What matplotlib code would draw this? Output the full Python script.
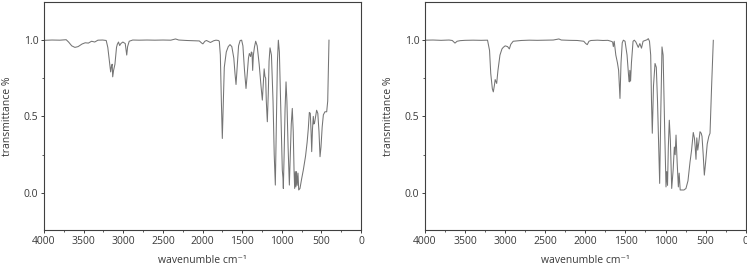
import matplotlib
matplotlib.use("Agg")
import matplotlib.pyplot as plt
from matplotlib.ticker import MultipleLocator

plt.rcParams['font.family'] = ['Open Sans', 'DejaVu Sans']

# Left spectrum (wavenumber cm-1, transmittance)
wn_a = [4000, 3900, 3800, 3720, 3690, 3650, 3610, 3570, 3520, 3480, 3440, 3400, 3360,
        3320, 3260, 3215, 3195, 3175, 3159, 3148, 3140, 3133, 3122, 3105, 3085, 3075,
        3060, 3045, 3030, 3005, 2975, 2956, 2945, 2925, 2880, 2800, 2700, 2600, 2500,
        2400, 2340, 2300, 2200, 2100, 2040, 2010, 1995, 1970, 1950, 1900, 1860, 1830,
        1800, 1788, 1775, 1762, 1750, 1740, 1725, 1700, 1675, 1653, 1630, 1605, 1590,
        1577, 1565, 1545, 1525, 1506, 1490, 1470, 1451, 1438, 1420, 1409, 1400, 1392,
        1384, 1375, 1367, 1358, 1345, 1329, 1310, 1285, 1262, 1245, 1232, 1222, 1212,
        1203, 1195, 1182, 1170, 1160, 1148, 1130, 1110, 1095, 1081, 1070, 1055, 1043,
        1030, 1010, 993, 985, 980, 970, 958, 946, 935, 920, 904, 892, 880, 867, 855,
        845, 837, 829, 822, 814, 806, 795, 786, 770, 750, 728, 700, 680, 665, 652,
        640, 630, 622, 612, 602, 595, 585, 560, 545, 530, 517, 505, 490, 475, 455,
        433, 420, 404]
t_a = [0.996, 0.998, 0.997, 1.000, 0.985, 0.960, 0.950, 0.955, 0.972, 0.980, 0.978,
       0.990, 0.985, 0.997, 0.998, 0.995, 0.950, 0.860, 0.790, 0.830, 0.840, 0.758,
       0.800, 0.840, 0.950, 0.970, 0.985, 0.962, 0.975, 0.985, 0.975, 0.900, 0.955,
       0.990, 0.998, 0.997, 0.998, 0.997, 0.998, 0.997, 1.005, 0.998, 0.995, 0.993,
       0.992, 0.978, 0.973, 0.990, 0.995, 0.982, 0.993, 0.997, 0.995, 0.990, 0.900,
       0.600, 0.356, 0.550, 0.820, 0.920, 0.955, 0.968, 0.955, 0.880, 0.780, 0.708,
       0.800, 0.960, 0.995, 0.997, 0.960, 0.800, 0.682, 0.760, 0.880, 0.910, 0.900,
       0.890, 0.920, 0.915, 0.800, 0.900, 0.950, 0.990, 0.960, 0.840, 0.700, 0.606,
       0.720, 0.810, 0.760, 0.750, 0.600, 0.465, 0.650, 0.860, 0.947, 0.900, 0.600,
       0.250, 0.052, 0.400, 0.850, 0.997, 0.920, 0.500, 0.150, 0.100, 0.030, 0.250,
       0.550, 0.725, 0.600, 0.300, 0.052, 0.250, 0.450, 0.552, 0.400, 0.150, 0.030,
       0.140, 0.040, 0.140, 0.050, 0.130, 0.020, 0.030, 0.090, 0.150, 0.240, 0.330,
       0.420, 0.526, 0.520, 0.400, 0.270, 0.420, 0.500, 0.450, 0.460, 0.540, 0.520,
       0.400, 0.237, 0.300, 0.430, 0.510, 0.530, 0.530, 0.600, 0.997]

# Right spectrum
wn_b = [4000, 3900, 3800, 3700, 3660, 3626, 3600, 3560, 3500, 3400, 3300, 3220, 3195,
        3180, 3160, 3148, 3135, 3125, 3106, 3090, 3065, 3040, 3024, 3000, 2970, 2948,
        2930, 2900, 2800, 2700, 2600, 2500, 2400, 2330, 2300, 2200, 2100, 2020, 1995,
        1976, 1955, 1930, 1850, 1780, 1720, 1680, 1660, 1651, 1640, 1620, 1600, 1585,
        1568, 1555, 1540, 1526, 1505, 1480, 1460, 1452, 1445, 1436, 1425, 1405, 1389,
        1370, 1340, 1320, 1300, 1280, 1255, 1230, 1215, 1200, 1185, 1175, 1165, 1150,
        1131, 1115, 1100, 1085, 1073, 1060, 1044, 1030, 1010, 994, 985, 975, 965, 953,
        940, 923, 905, 890, 880, 869, 855, 840, 830, 817, 800, 770, 745, 720, 695, 675,
        654, 640, 630, 620, 610, 598, 585, 570, 555, 545, 530, 516, 500, 480, 460, 445,
        425, 404]
t_b = [0.997, 0.998, 0.996, 0.998, 0.995, 0.978, 0.990, 0.994, 0.996, 0.997, 0.996,
       0.997, 0.930, 0.780, 0.680, 0.660, 0.700, 0.740, 0.715, 0.800, 0.900, 0.940,
       0.950, 0.960, 0.955, 0.940, 0.970, 0.990, 0.995, 0.997, 0.996, 0.997, 0.998,
       1.005, 0.998, 0.996, 0.995, 0.990, 0.975, 0.968, 0.990, 0.995, 0.997, 0.995,
       0.996, 0.990, 0.985, 0.955, 0.990, 0.900, 0.850, 0.800, 0.617, 0.850, 0.980,
       0.997, 0.990, 0.900, 0.760, 0.725, 0.800, 0.730, 0.850, 0.990, 0.997, 0.985,
       0.950, 0.975, 0.945, 0.990, 0.995, 1.000, 1.007, 0.990, 0.900, 0.600, 0.390,
       0.700, 0.845, 0.820, 0.600, 0.300, 0.063, 0.500, 0.953, 0.900, 0.400, 0.040,
       0.140, 0.050, 0.300, 0.475, 0.350, 0.030, 0.150, 0.300, 0.250, 0.378, 0.200,
       0.040, 0.130, 0.020, 0.020, 0.020, 0.030, 0.080, 0.200, 0.280, 0.395, 0.360,
       0.300, 0.220, 0.360, 0.280, 0.330, 0.400, 0.390, 0.370, 0.250, 0.117, 0.200,
       0.320, 0.370, 0.390, 0.700, 0.996]

x_ticks = [4000, 3500, 3000, 2500, 2000, 1500, 1000, 500, 0]
y_ticks = [0.0, 0.5, 1.0]
x_label = "wavenumble cm\u207b\u00b9"
y_label = "transmittance %"

W, H = 747, 268
fig = plt.figure(figsize=(W / 100, H / 100), dpi=100)

txt = '#3a3a3a'
spine_c = '#404040'
line_c = '#747474'

def setup(ax, wn, t, width_px):
    ax.plot(wn, t, color=line_c, lw=0.75)
    ax.set_xlim(4000, 0)
    ax.set_ylim(-0.241, 1.246)
    ax.set_xticks(x_ticks)
    ax.set_xticklabels([str(v) for v in x_ticks])
    ax.set_yticks(y_ticks)
    ax.set_yticklabels(["%.1f" % v for v in y_ticks])
    ax.xaxis.set_minor_locator(MultipleLocator(250))
    ax.yaxis.set_minor_locator(MultipleLocator(0.25))
    ax.tick_params(which='major', direction='out', length=2.5, width=0.7,
                   colors=spine_c, labelcolor=txt, labelsize=7.5, pad=1.5)
    ax.tick_params(which='minor', direction='out', length=1.5, width=0.6,
                   colors=spine_c)
    for s in ax.spines.values():
        s.set_color(spine_c)
        s.set_linewidth(0.8)
    ax.set_xlabel(x_label, fontsize=7.5, color=txt, labelpad=6)
    ax.set_ylabel(y_label, fontsize=7.5, color=txt)
    ax.yaxis.set_label_coords(-31.0 / width_px, 0.5)

ax1 = fig.add_axes([44 / W, (H - 230) / H, 317 / W, 228 / H])
setup(ax1, wn_a, t_a, 317)
ax2 = fig.add_axes([425 / W, (H - 230) / H, 320.7 / W, 228 / H])
setup(ax2, wn_b, t_b, 320.7)

fig.savefig("out.png", dpi=100)
